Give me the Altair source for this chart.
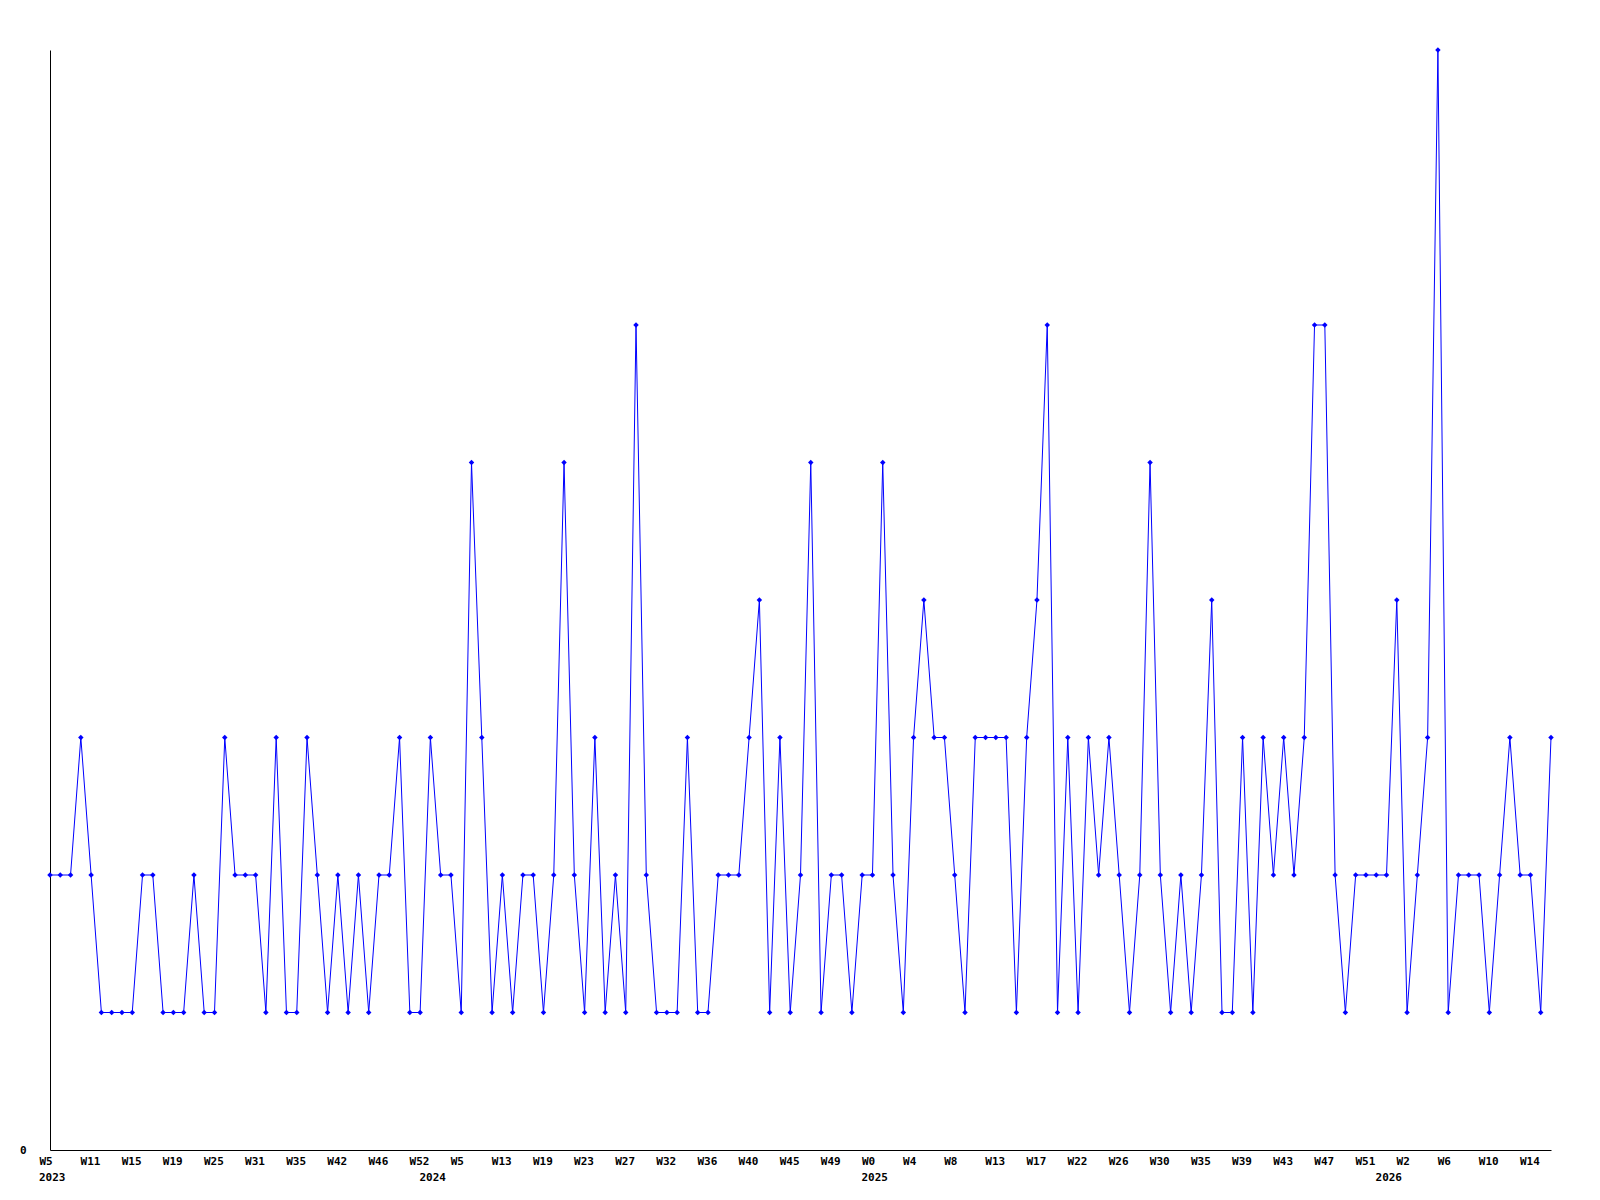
import altair as alt
import pandas as pd

# Weekly counts, one per plotted point (left to right)
values = [
    2, 2, 2, 3, 2, 1, 1, 1, 1, 2, 2, 1, 1, 1, 2, 1, 1, 3, 2, 2,
    2, 1, 3, 1, 1, 3, 2, 1, 2, 1, 2, 1, 2, 2, 3, 1, 1, 3, 2, 2,
    1, 5, 3, 1, 2, 1, 2, 2, 1, 2, 5, 2, 1, 3, 1, 2, 1, 6, 2, 1,
    1, 1, 3, 1, 1, 2, 2, 2, 3, 4, 1, 3, 1, 2, 5, 1, 2, 2, 1, 2,
    2, 5, 2, 1, 3, 4, 3, 3, 2, 1, 3, 3, 3, 3, 1, 3, 4, 6, 1, 3,
    1, 3, 2, 3, 2, 1, 2, 5, 2, 1, 2, 1, 2, 4, 1, 1, 3, 1, 3, 2,
    3, 2, 3, 6, 6, 2, 1, 2, 2, 2, 2, 4, 1, 2, 3, 8, 1, 2, 2, 2,
    1, 2, 3, 2, 2, 1, 3,
]

# Tick labels: one every 4 points
week_labels = [
    "W5", "W11", "W15", "W19", "W25", "W31", "W35", "W42", "W46", "W52",
    "W5", "W13", "W19", "W23", "W27", "W32", "W36", "W40", "W45", "W49",
    "W0", "W4", "W8", "W13", "W17", "W22", "W26", "W30", "W35", "W39",
    "W43", "W47", "W51", "W2", "W6", "W10", "W14",
]
LABEL_STEP = 4

# Year labels, placed at the first point of each year
year_text = ["2023", "2024", "2025", "2026"]
year_index = [0, 37, 80, 130]

df = pd.DataFrame({"i": list(range(len(values))), "v": values})
years_df = pd.DataFrame({"i": year_index, "t": year_text})

def js_list(lst):
    return "[" + ",".join("'" + s + "'" for s in lst) + "]"

label_expr = js_list(week_labels) + "[round(datum.value/" + str(LABEL_STEP) + ")]"

FONT = "DejaVu Sans Mono"
BLUE = "#0000FF"
W, H = 1501, 1100

x_scale = alt.Scale(domain=[0, len(values) - 1], nice=False, zero=False)
x_enc = alt.X(
    "i:Q",
    scale=x_scale,
    axis=alt.Axis(
        values=list(range(0, len(values), LABEL_STEP)),
        labelExpr=label_expr,
        ticks=False,
        grid=False,
        domainColor="black",
        domainWidth=1,
        labelAlign="left",
        labelOffset=-11,
        labelBaseline="top",
        labelPadding=5,
        labelFont=FONT,
        labelFontSize=11,
        labelFontWeight="bold",
        labelColor="black",
        labelOverlap=False,
        labelFlush=False,
        labelBound=False,
        title=None,
    ),
)
y_enc = alt.Y(
    "v:Q",
    scale=alt.Scale(domain=[0, 8], nice=False, zero=True),
    axis=alt.Axis(
        values=[0],
        format="d",
        ticks=False,
        grid=False,
        domainColor="black",
        domainWidth=1,
        labelPadding=24,
        labelFont=FONT,
        labelFontSize=11,
        labelFontWeight="bold",
        labelColor="black",
        labelFlush=False,
        title=None,
    ),
)

line = alt.Chart(df).mark_line(color=BLUE, strokeWidth=1).encode(x=x_enc, y=y_enc)
pts = alt.Chart(df).mark_point(
    shape="diamond", filled=True, color=BLUE, size=30, opacity=1
).encode(x="i:Q", y="v:Q")
years = alt.Chart(years_df).mark_text(
    align="left", baseline="top", dx=-11, font=FONT, fontSize=11,
    fontWeight="bold", color="black"
).encode(x="i:Q", y=alt.value(H + 22), text="t:N")

chart = (
    alt.layer(line, pts, years)
    .properties(
        width=W,
        height=H,
        background="white",
        autosize=alt.AutoSizeParams(type="none"),
        padding={"left": 42, "top": 42, "right": 30, "bottom": 50},
    )
    .configure_view(stroke="transparent", strokeWidth=0)
)

chart.save("out.html", embed_options={"renderer": "svg", "actions": False})
